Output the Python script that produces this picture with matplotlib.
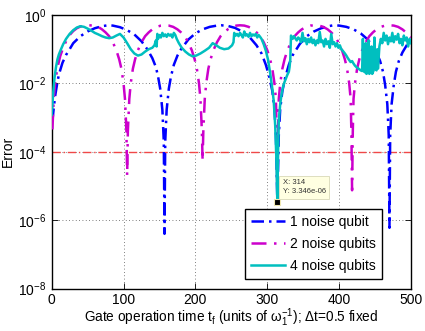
import matplotlib
matplotlib.use("Agg")
import matplotlib.pyplot as plt
import numpy as np

plt.rcParams['font.family'] = ['Liberation Sans', 'DejaVu Sans']
plt.rcParams['mathtext.fontset'] = 'custom'
plt.rcParams['mathtext.rm'] = 'Liberation Sans'
plt.rcParams['mathtext.it'] = 'Liberation Sans:italic'
plt.rcParams['mathtext.bf'] = 'Liberation Sans:bold'

# ---- data: 1 noise qubit ----
t1 = [1, 3, 5, 8, 10, 15, 20, 25, 30, 40, 50, 60, 70, 78, 85, 95, 105, 115, 125, 133,
      140, 145, 148, 151, 154, 156, 157, 158, 160, 163, 166, 170, 175, 180, 190, 200,
      210, 220, 230, 236, 245, 255, 265, 275, 285, 292, 298, 303, 307, 310, 312, 314,
      316, 318, 321, 325, 330, 335, 345, 355, 365, 375, 385, 392, 400, 410, 420, 430,
      440, 447, 452, 457, 461, 464, 467, 469, 470, 471, 473, 476, 479, 483, 488, 494, 500]
e1 = [8e-4, 2e-3, 4.5e-3, 0.011, 0.018, 0.04, 0.068, 0.1, 0.15, 0.24, 0.33, 0.41, 0.47,
      0.5, 0.49, 0.44, 0.36, 0.27, 0.17, 0.1, 0.055, 0.03, 0.016, 0.007, 0.0017, 2e-4,
      4e-7, 2e-4, 0.0017, 0.007, 0.016, 0.035, 0.065, 0.1, 0.19, 0.29, 0.38, 0.45, 0.49,
      0.5, 0.48, 0.42, 0.33, 0.23, 0.13, 0.075, 0.035, 0.015, 0.006, 0.0018, 3e-4,
      3.4e-6, 3e-4, 0.0018, 0.006, 0.015, 0.035, 0.065, 0.14, 0.24, 0.33, 0.41, 0.47,
      0.5, 0.49, 0.45, 0.38, 0.29, 0.19, 0.12, 0.08, 0.045, 0.022, 0.009, 0.0025, 3e-4,
      6e-7, 3e-4, 0.0025, 0.009, 0.022, 0.045, 0.08, 0.13, 0.19]

# ---- data: 2 noise qubits ----
t2 = [1, 3, 5, 8, 12, 16, 20, 25, 30, 35, 40, 46, 52, 58, 64, 70, 75, 80, 85, 90, 94,
      97, 100, 102, 104, 105, 106, 108, 110, 113, 116, 120, 125, 130, 135, 140, 146,
      152, 157, 163, 169, 175, 180, 185, 190, 195, 199, 202, 205, 207, 209, 210, 211,
      213, 215, 218, 221, 225, 230, 235, 240, 245, 251, 257, 262, 268, 274, 280, 285,
      290, 295, 300, 304, 307, 310, 312, 313, 314, 315, 316, 318, 321, 324, 328, 333,
      338, 343, 348, 354, 360, 366, 372, 378, 384, 389, 394, 399, 404, 408, 411, 414,
      416, 417, 418, 419, 420, 422, 425, 428, 432, 437, 442, 447, 452, 458, 464, 470,
      476, 482, 488, 493, 498, 500]
e2 = [4.5e-4, 4e-3, 0.011, 0.029, 0.064, 0.11, 0.17, 0.26, 0.34, 0.41, 0.46, 0.49, 0.5,
      0.49, 0.46, 0.38, 0.31, 0.24, 0.16, 0.093, 0.05, 0.027, 0.01, 0.0035, 4e-4, 2e-5,
      4e-4, 0.0035, 0.01, 0.027, 0.05, 0.093, 0.16, 0.24, 0.31, 0.38, 0.45, 0.49, 0.5,
      0.49, 0.45, 0.38, 0.31, 0.24, 0.16, 0.093, 0.05, 0.027, 0.01, 0.0035, 4e-4, 5.5e-5,
      4e-4, 0.0035, 0.01, 0.027, 0.05, 0.093, 0.16, 0.24, 0.31, 0.38, 0.45, 0.49, 0.5,
      0.49, 0.45, 0.38, 0.31, 0.24, 0.16, 0.093, 0.05, 0.027, 0.01, 0.0035, 4e-4, 4e-6,
      4e-4, 0.0035, 0.01, 0.027, 0.05, 0.093, 0.16, 0.24, 0.31, 0.38, 0.45, 0.49, 0.5,
      0.49, 0.45, 0.38, 0.31, 0.24, 0.16, 0.093, 0.05, 0.027, 0.01, 0.0035, 4e-4, 7.5e-6,
      4e-4, 0.0035, 0.01, 0.027, 0.05, 0.093, 0.16, 0.24, 0.31, 0.38, 0.45, 0.49, 0.5,
      0.49, 0.45, 0.38, 0.31, 0.24, 0.22]

# ---- data: 4 noise qubits ----
t4 = [0, 2, 4, 6, 8, 10, 13, 16, 20, 25, 30, 35, 40, 45, 50, 55, 60, 65, 70, 75, 80, 85,
      90, 95, 100, 105, 110, 115, 120, 125, 130, 135, 140, 143, 145, 146, 147, 148, 150,
      152, 154, 156, 158, 160, 162, 164, 166, 168, 170, 172, 174, 177, 181, 186, 191,
      196, 201, 207, 213, 219, 224, 229, 234, 240, 246, 251, 253, 254, 256, 258, 260,
      262, 264, 266, 268, 270, 272, 274, 276, 278, 280, 282, 284, 286, 288, 290, 292,
      295, 298, 301, 304, 307, 309, 311, 312.5, 314, 315, 316, 318, 320, 322, 324, 326,
      328, 330, 331, 332, 333, 335, 337, 339, 341, 343, 345, 347, 349, 351, 353, 355,
      357, 359, 361, 363, 365, 367, 369, 371, 373, 375, 377, 379, 381, 383, 385, 387,
      389, 391, 393, 395, 397, 399, 401, 403, 405, 408, 410, 412, 414, 416, 418, 420,
      422, 424, 426, 428, 430, 432, 433, 434, 436, 437, 438, 440, 441, 442, 444, 445,
      446, 448, 449, 450, 452, 453, 454, 456, 458, 460, 462, 464, 466, 468, 470, 472,
      474, 476, 478, 480, 482, 484, 486, 488, 490, 492, 494, 496, 498, 500]
e4 = [0.0012, 0.005, 0.015, 0.03, 0.05, 0.07, 0.1, 0.14, 0.2, 0.28, 0.36, 0.43, 0.47,
      0.45, 0.4, 0.35, 0.3, 0.27, 0.24, 0.22, 0.21, 0.22, 0.25, 0.28, 0.22, 0.15, 0.1,
      0.075, 0.065, 0.07, 0.085, 0.1, 0.11, 0.13, 0.18, 0.12, 0.28, 0.2, 0.26, 0.22,
      0.3, 0.24, 0.27, 0.23, 0.28, 0.25, 0.27, 0.22, 0.3, 0.26, 0.2, 0.15, 0.11, 0.085,
      0.07, 0.062, 0.065, 0.075, 0.09, 0.11, 0.15, 0.13, 0.11, 0.1, 0.105, 0.13, 0.16,
      0.3, 0.25, 0.28, 0.24, 0.3, 0.26, 0.22, 0.33, 0.25, 0.27, 0.23, 0.3, 0.24, 0.27,
      0.25, 0.28, 0.22, 0.26, 0.23, 0.2, 0.14, 0.09, 0.05, 0.02, 0.007, 0.003, 6e-4,
      8e-5, 3.346e-6, 1e-4, 8e-4, 0.0025, 0.005, 0.008, 0.011, 0.014, 0.018, 0.022,
      0.03, 0.05, 0.25, 0.2, 0.24, 0.21, 0.18, 0.22, 0.2, 0.16, 0.3, 0.17, 0.21, 0.14,
      0.2, 0.16, 0.22, 0.15, 0.19, 0.13, 0.18, 0.15, 0.32, 0.16, 0.18, 0.12, 0.2, 0.14,
      0.17, 0.11, 0.28, 0.14, 0.16, 0.12, 0.15, 0.11, 0.13, 0.1, 0.09, 0.075, 0.065,
      0.055, 0.048, 0.042, 0.045, 0.038, 0.033, 0.03, 0.028, 0.026, 0.024, 0.023, 0.2,
      0.023, 0.021, 0.15, 0.019, 0.021, 0.18, 0.019, 0.028, 0.12, 0.019, 0.024, 0.22,
      0.028, 0.024, 0.1, 0.027, 0.12, 0.2, 0.15, 0.3, 0.18, 0.25, 0.14, 0.22, 0.17, 0.3,
      0.16, 0.24, 0.19, 0.28, 0.15, 0.2, 0.13, 0.25, 0.18, 0.22, 0.12, 0.2, 0.15]

threshold = 1e-4
tip_x, tip_y = 314, 3.346e-6

fig = plt.figure(figsize=(4.25, 3.31), dpi=100)
ax = fig.add_axes([0.1216, 0.128, 0.8455, 0.8267])

ax.plot(t1, e1, color='#0000ff', lw=1.8, ls=(0, (5, 2, 1, 2)), label='1 noise qubit', zorder=3)
ax.plot(t2, e2, color='#cc00cc', lw=1.8, ls=(0, (6, 3, 1, 3)), label='2 noise qubits', zorder=3)
ax.plot(t4, e4, color='#00bfbf', lw=1.8, ls='-', label='4 noise qubits', zorder=4)
ax.axhline(threshold, color='#f04848', lw=1.0, ls=(0, (6, 2, 1, 2)), zorder=2)

ax.plot([tip_x], [tip_y], 's', color='black', ms=5, mec='#f0e8b0', mew=0.8, zorder=6)
ax.annotate('X: %d\nY: %.3e' % (tip_x, tip_y), xy=(tip_x, tip_y), xytext=(4, 5),
            textcoords='offset points', ha='left', va='bottom', fontsize=5.5,
            color='#333333', linespacing=1.4, zorder=7,
            bbox=dict(boxstyle='square,pad=0.45', fc='#ffffe1', ec='#d8d8b8', lw=0.6))

ax.set_yscale('log')
ax.set_xlim(0, 500)
ax.set_ylim(1e-8, 1)
ax.set_xticks([0, 100, 200, 300, 400, 500])
ax.set_yticks([1e-8, 1e-6, 1e-4, 1e-2, 1])
ax.yaxis.set_minor_locator(matplotlib.ticker.NullLocator())
ax.tick_params(direction='in', top=True, right=True, labelsize=10, length=4, width=0.6, pad=4)
ax.tick_params(axis='x', pad=3)
ax.grid(True, which='major', ls=(0, (1, 3)), color='#555555', lw=0.6)
for s in ax.spines.values():
    s.set_linewidth(1.0)

ax.set_xlabel(r'Gate operation time t$_\mathregular{f}$ (units of $\mathregular{\omega_1^{-1}}$); Δt=0.5 fixed',
              fontsize=9.8, labelpad=0)
ax.set_ylabel('Error', fontsize=10, labelpad=2)

leg = ax.legend(loc='lower left', bbox_to_anchor=(0.538, 0.036), borderaxespad=0,
                fontsize=10, handlelength=2.4, handletextpad=0.4, labelspacing=0.55,
                borderpad=0.45, fancybox=False, framealpha=1, edgecolor='black')
leg.get_frame().set_linewidth(1.0)
leg.set_zorder(8)

fig.savefig('out.png', dpi=100)
